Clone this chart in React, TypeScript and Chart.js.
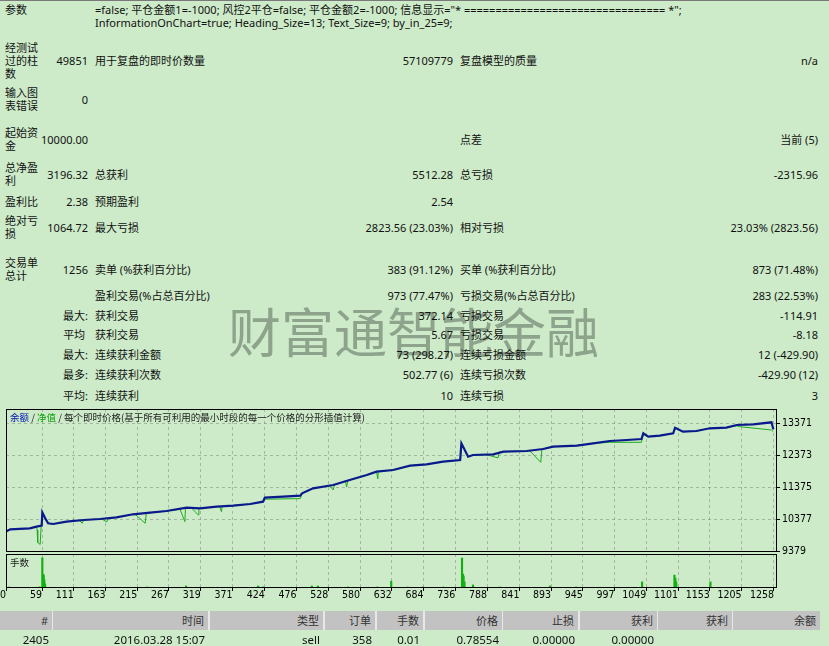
import React, { useEffect, useRef } from 'react';
import { Chart, registerables } from 'chart.js';

Chart.register(...registerables);

// ---------------- data ----------------
const paramLines = [
  '=false; 平仓金额1=-1000; 风控2平仓=false; 平仓金额2=-1000; 信息显示="* ================================ *";',
  'InformationOnChart=true; Heading_Size=13; Text_Size=9; by_in_25=9;',
];

const statRows = [
  { y: 60, a: '经测试过的柱数', b: '49851', c: '用于复盘的即时价数量', d: '57109779', e: '复盘模型的质量', f: 'n/a' },
  { y: 99, a: '输入图表错误', b: '0' },
  { y: 139, a: '起始资金', b: '10000.00', e: '点差', f: '当前 (5)' },
  { y: 174, a: '总净盈利', b: '3196.32', c: '总获利', d: '5512.28', e: '总亏损', f: '-2315.96' },
  { y: 201, a: '盈利比', b: '2.38', c: '预期盈利', d: '2.54' },
  { y: 227, a: '绝对亏损', b: '1064.72', c: '最大亏损', d: '2823.56 (23.03%)', e: '相对亏损', f: '23.03% (2823.56)' },
  { y: 269, a: '交易单总计', b: '1256', c: '卖单 (%获利百分比)', d: '383 (91.12%)', e: '买单 (%获利百分比)', f: '873 (71.48%)' },
  { y: 295, c: '盈利交易(%占总百分比)', d: '973 (77.47%)', e: '亏损交易(%占总百分比)', f: '283 (22.53%)' },
  { y: 315, b: '最大:', c: '获利交易', d: '372.14', e: '亏损交易', f: '-114.91' },
  { y: 334, b: '平均 ', c: '获利交易', d: '5.67', e: '亏损交易', f: '-8.18' },
  { y: 354, b: '最大:', c: '连续获利金额', d: '73 (298.27)', e: '连续亏损金额', f: '12 (-429.90)' },
  { y: 374, b: '最多:', c: '连续获利次数', d: '502.77 (6)', e: '连续亏损次数', f: '-429.90 (12)' },
  { y: 395, b: '平均:', c: '连续获利', d: '10', e: '连续亏损', f: '3' },
];

const legendParts = ['余额', ' / ', '净值', ' / 每个即时价格(基于所有可利用的最小时段的每一个价格的分形插值计算)'];
const lotsLabel = '手数';
const watermark = '财富通智能金融';

const xTickValues = [0, 59, 111, 163, 215, 267, 319, 371, 424, 476, 528, 580, 632, 684, 736, 788, 841, 893, 945, 997, 1049, 1101, 1153, 1205, 1258];
const xTickLabels = ['0', '59', '111', '163', '215', '267', '319', '371', '424', '476', '528', '580', '632', '684', '736', '788', '841', '893', '945', '997', '1049', '1101', '1153', '1205', '1258'];
const yTickValues = [9379, 10377, 11375, 12373, 13371];
const yTickLabels = ['9379', '10377', '11375', '12373', '13371'];
const X_MAX = 1263;
const Y_MIN = 9379;
const Y_MAX = 13825;

const balanceTrades = [0, 7, 39, 50, 58.5, 59.5, 64, 69, 77, 99, 127, 154, 181, 208, 236, 263, 296, 318, 345, 372, 400, 421, 424, 454, 482, 485, 503, 536, 563, 591, 607, 634, 662, 689, 716, 744, 746, 757, 765, 798, 815, 853, 880, 896, 935, 962, 989, 1017, 1041, 1044, 1052, 1071, 1093, 1096, 1109, 1131, 1153, 1180, 1197, 1224, 1254, 1257];
const balanceValues = [10000, 10070, 10103, 10153, 10184, 10602, 10424, 10259, 10237, 10309, 10362, 10393, 10446, 10540, 10590, 10643, 10746, 10727, 10777, 10808, 10861, 10933, 11058, 11089, 11120, 11195, 11351, 11454, 11610, 11766, 11869, 11922, 12056, 12100, 12181, 12234, 12755, 12337, 12390, 12412, 12493, 12515, 12577, 12649, 12680, 12755, 12827, 12858, 12889, 13067, 12961, 12992, 13067, 13242, 13117, 13139, 13223, 13242, 13326, 13348, 13410, 13196];

const equityTrades = [0, 7, 39, 50, 51, 52, 56, 57.5, 59.5, 64, 69, 77, 99, 120, 125, 127, 154, 157, 165, 167, 181, 208, 211, 228, 230, 236, 263, 285, 293, 294, 296, 304, 315, 316, 318, 345, 350, 353, 354, 372, 400, 421, 424, 482, 485, 503, 530, 536, 538, 556, 558, 560, 563, 591, 607, 609, 610, 634, 662, 689, 716, 744, 746, 757, 765, 787, 806, 808, 815, 853, 858, 876, 878, 880, 896, 935, 962, 989, 1041, 1044, 1052, 1071, 1093, 1096, 1109, 1131, 1153, 1180, 1197, 1202, 1254, 1257];
const equityValues = [10000, 10070, 10103, 10153, 10050, 9660, 9600, 10150, 10602, 10424, 10259, 10237, 10309, 10350, 10260, 10362, 10393, 10398, 10300, 10405, 10446, 10540, 10550, 10260, 10585, 10590, 10643, 10700, 10310, 10742, 10746, 10735, 10518, 10727, 10727, 10777, 10780, 10620, 10782, 10808, 10861, 10933, 11010, 11030, 11195, 11351, 11430, 11300, 11454, 11580, 11390, 11595, 11610, 11766, 11869, 11641, 11875, 11922, 12056, 12100, 12181, 12234, 12755, 12337, 12390, 12400, 12300, 12480, 12493, 12515, 12520, 12162, 12577, 12577, 12649, 12680, 12755, 12786, 12786, 13067, 12961, 12992, 13067, 13242, 13117, 13139, 13223, 13242, 13300, 13273, 13170, 13117];

const lotTrades = [5, 55, 59.5, 60.6, 61.8, 62.8, 64, 231, 295, 413, 421, 501, 511, 560, 608, 631, 658, 683, 716, 747, 748.6, 749.6, 751, 765, 809, 891, 934, 1042, 1095, 1096.5, 1098, 1154];
const lotSizes = [0.03, 0.03, 0.89, 0.41, 0.38, 0.24, 0.12, 0.03, 0.06, 0.06, 0.03, 0.06, 0.06, 0.03, 0.03, 0.2, 0.03, 0.03, 0.03, 0.88, 0.41, 0.35, 0.18, 0.09, 0.03, 0.06, 0.03, 0.18, 0.38, 0.29, 0.18, 0.18];

const tableHeaders = ['#', '时间', '类型', '订单', '手数', '价格', '止损', '获利', '获利', '余额'];
const tableRow = ['2405', '2016.03.28 15:07', 'sell', '358', '0.01', '0.78554', '0.00000', '0.00000', '', ''];

// ---------------- styles ----------------
const BG = '#cdebc9';
const TEXT_FONT = '"Noto Sans", "Noto Sans CJK SC", sans-serif';
const AXIS_FONT = '"Liberation Sans Narrow", "DejaVu Sans Condensed", "Noto Sans", sans-serif';
const GRID = 'rgba(110,120,110,0.45)';
const colLefts = [0, 53, 210, 325, 377, 425, 503, 580, 658, 733];
const colRights = [52, 208, 323, 375, 423, 502, 578, 657, 732, 820];

const framePlugin = {
  id: 'frame',
  afterDraw(chart: any) {
    const { ctx, chartArea: a } = chart;
    ctx.save();
    ctx.strokeStyle = '#000';
    ctx.lineWidth = 1;
    const l = Math.round(a.left) + 0.5;
    const t = Math.round(a.top) + 0.5;
    const r = Math.round(a.right) - 0.5;
    const b = Math.round(a.bottom) - 0.5;
    ctx.strokeRect(l, t, r - l, b - t);
    ctx.restore();
  },
};

const setXTicks = (s: any) => {
  s.ticks = xTickValues.map((v) => ({ value: v }));
};

function MainChart() {
  const ref = useRef<HTMLCanvasElement>(null);
  useEffect(() => {
    const chart = new Chart(ref.current as HTMLCanvasElement, {
      type: 'line',
      data: {
        datasets: [
          {
            label: '余额',
            data: balanceTrades.map((x, i) => ({ x, y: balanceValues[i] })),
            borderColor: '#0a1a8c',
            borderWidth: 2.2,
            pointRadius: 0,
            tension: 0,
          },
          {
            label: '净值',
            data: equityTrades.map((x, i) => ({ x, y: equityValues[i] })),
            borderColor: '#1faa1f',
            borderWidth: 1,
            pointRadius: 0,
            tension: 0,
          },
        ],
      },
      options: {
        animation: false,
        responsive: false,
        events: [],
        layout: { padding: { left: 6, top: 12, bottom: 12.5, right: 0 } },
        plugins: { legend: { display: false }, tooltip: { enabled: false } },
        scales: {
          x: {
            type: 'linear',
            min: 0,
            max: X_MAX,
            afterBuildTicks: setXTicks,
            ticks: { display: false },
            grid: { color: GRID, drawTicks: false },
            border: { display: false, dash: [3, 3] },
            afterFit: (s: any) => {
              s.height = 0;
              s.paddingLeft = 0;
              s.paddingRight = 0;
            },
          },
          y: {
            position: 'right',
            min: Y_MIN,
            max: Y_MAX,
            afterBuildTicks: (s: any) => {
              s.ticks = yTickValues.map((v) => ({ value: v }));
            },
            ticks: {
              callback: (_v: any, i: number) => yTickLabels[i],
              font: { family: AXIS_FONT, size: 10.5 },
              color: '#000',
              padding: 2,
            },
            grid: { color: GRID, tickLength: 3, tickColor: '#000', tickBorderDash: [] },
            border: { display: false, dash: [3, 3] },
            afterFit: (s: any) => {
              s.width = 52;
              s.paddingTop = 0;
              s.paddingBottom = 0;
            },
          },
        },
      } as any,
      plugins: [framePlugin],
    });
    return () => chart.destroy();
  }, []);
  return (
    <canvas
      ref={ref}
      width={829}
      height={167}
      style={{ position: 'absolute', left: 0, top: 397, width: 829, height: 167 }}
    />
  );
}

function LotsChart() {
  const ref = useRef<HTMLCanvasElement>(null);
  useEffect(() => {
    const chart = new Chart(ref.current as HTMLCanvasElement, {
      type: 'bar',
      data: {
        datasets: [
          {
            label: '手数',
            data: lotTrades.map((x, i) => ({ x, y: lotSizes[i] })),
            backgroundColor: '#12b012',
            borderWidth: 0,
            barThickness: 1.5,
          },
        ],
      },
      options: {
        animation: false,
        responsive: false,
        events: [],
        layout: { padding: { left: 6, top: 8, bottom: 2, right: 52 } },
        plugins: { legend: { display: false }, tooltip: { enabled: false } },
        scales: {
          x: {
            type: 'linear',
            min: 0,
            max: X_MAX,
            offset: false,
            afterBuildTicks: setXTicks,
            ticks: {
              callback: (_v: any, i: number) => xTickLabels[i],
              align: 'end',
              autoSkip: false,
              maxRotation: 0,
              padding: -2,
              font: { family: AXIS_FONT, size: 10.5 },
              color: '#000',
            },
            grid: { color: GRID, tickLength: 3, tickColor: '#000', tickBorderDash: [], offset: false },
            border: { display: false, dash: [3, 3] },
            afterFit: (s: any) => {
              s.height = 20;
              s.paddingLeft = 0;
              s.paddingRight = 0;
            },
          },
          y: {
            display: false,
            min: 0,
            max: 1,
          },
        },
      } as any,
      plugins: [framePlugin],
    });
    return () => chart.destroy();
  }, []);
  return (
    <canvas
      ref={ref}
      width={829}
      height={64}
      style={{ position: 'absolute', left: 0, top: 546, width: 829, height: 64 }}
    />
  );
}

const cellBase: React.CSSProperties = {
  position: 'absolute',
  top: '50%',
  transform: 'translateY(-50%)',
  lineHeight: '13px',
  whiteSpace: 'pre',
};

function StatRow({ row }: { row: any }) {
  return (
    <div style={{ position: 'absolute', left: 0, top: row.y - 25, width: 829, height: 50 }}>
      {row.a && <div style={{ ...cellBase, left: 5, width: 40, whiteSpace: 'normal' }}>{row.a}</div>}
      {row.b && <div style={{ ...cellBase, left: 30, width: 58, textAlign: 'right' }}>{row.b}</div>}
      {row.c && <div style={{ ...cellBase, left: 95 }}>{row.c}</div>}
      {row.d && <div style={{ ...cellBase, left: 253, width: 200, textAlign: 'right' }}>{row.d}</div>}
      {row.e && <div style={{ ...cellBase, left: 460 }}>{row.e}</div>}
      {row.f && <div style={{ ...cellBase, left: 618, width: 200, textAlign: 'right' }}>{row.f}</div>}
    </div>
  );
}

export default function App() {
  const legendColors = ['#0010b0', '#222', '#10a010', '#222'];
  return (
    <div
      style={{
        position: 'absolute',
        left: 0,
        top: 0,
        width: 829,
        height: 646,
        overflow: 'hidden',
        background: BG,
        fontFamily: TEXT_FONT,
        fontSize: 11,
        color: '#111',
      }}
    >
      <div style={{ position: 'absolute', left: 0, top: 0, width: 829, height: 1, background: '#7a7a7a' }} />
      <div
        style={{
          position: 'absolute',
          left: 228,
          top: 298,
          fontSize: 53,
          lineHeight: '64px',
          color: '#8ea38c',
          whiteSpace: 'nowrap',
          fontFamily: '"Noto Sans CJK SC", sans-serif',
        }}
      >
        {watermark}
      </div>
      <div style={{ position: 'absolute', left: 5, top: 3, lineHeight: '13px' }}>参数</div>
      <div style={{ position: 'absolute', left: 95, top: 3, lineHeight: '13px', whiteSpace: 'pre' }}>
        {paramLines.map((l, i) => (
          <div key={i}>{l}</div>
        ))}
      </div>
      {statRows.map((r, i) => (
        <StatRow key={i} row={r} />
      ))}

      <MainChart />
      <LotsChart />
      <div
        style={{
          position: 'absolute',
          left: 10,
          top: 411,
          fontSize: 9.5,
          lineHeight: '13px',
          whiteSpace: 'pre',
          fontFamily: '"Noto Sans CJK SC", sans-serif',
        }}
      >
        {legendParts.map((p, i) => (
          <span key={i} style={{ color: legendColors[i] }}>
            {p}
          </span>
        ))}
      </div>
      <div
        style={{
          position: 'absolute',
          left: 10,
          top: 556,
          fontSize: 9.5,
          lineHeight: '13px',
          color: '#222',
          fontFamily: '"Noto Sans CJK SC", sans-serif',
        }}
      >
        {lotsLabel}
      </div>

      <div style={{ position: 'absolute', left: 0, top: 611, width: 820, height: 19, background: '#e8e8e8' }}>
        {tableHeaders.map((h, i) => (
          <div
            key={i}
            style={{
              position: 'absolute',
              left: colLefts[i],
              width: colRights[i] - colLefts[i],
              top: 0,
              height: 19,
              background: '#c2c2c2',
              textAlign: 'right',
              lineHeight: '19px',
              paddingRight: 4,
              boxSizing: 'border-box',
              color: '#333',
            }}
          >
            {h}
          </div>
        ))}
      </div>
      <div style={{ position: 'absolute', left: 0, top: 632, width: 820, height: 16 }}>
        {tableRow.map((c, i) => (
          <div
            key={i}
            style={{
              position: 'absolute',
              left: colLefts[i],
              width: colRights[i] - colLefts[i],
              top: 0,
              height: 16,
              textAlign: 'right',
              lineHeight: '16px',
              paddingRight: 3,
              boxSizing: 'border-box',
              fontSize: 11.5,
              color: '#111',
            }}
          >
            {c}
          </div>
        ))}
      </div>
    </div>
  );
}
